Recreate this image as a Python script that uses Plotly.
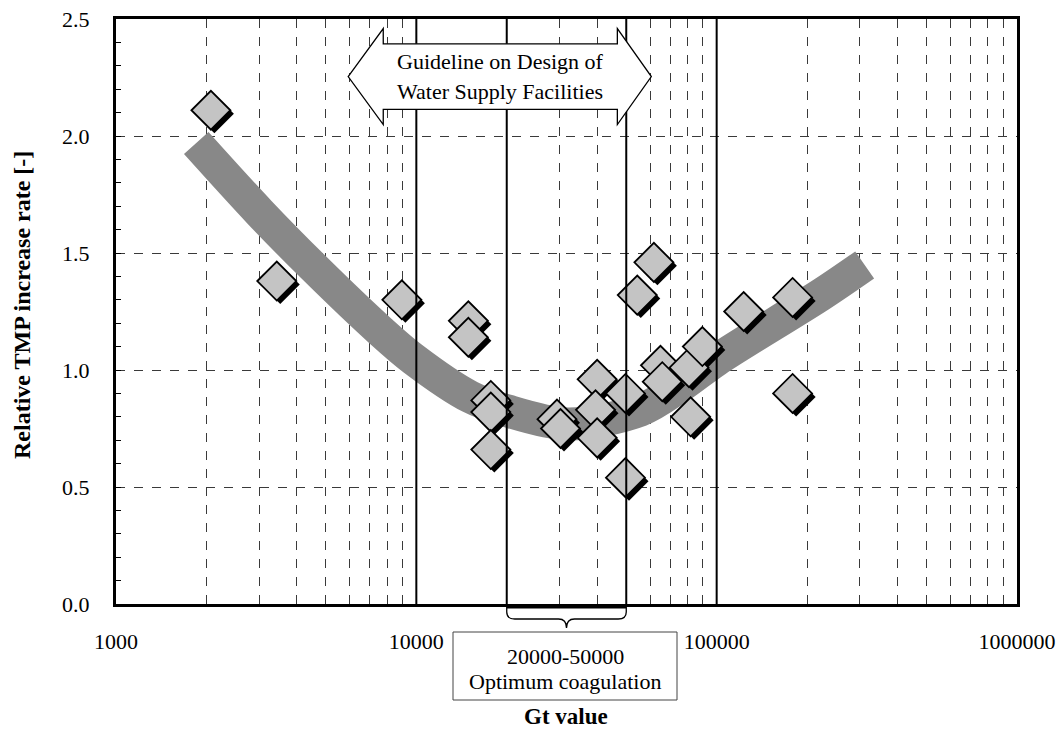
import math
import plotly.graph_objects as go

# ---------------- data ----------------
gt_values = [2070, 3430, 8950, 14900, 14900, 17700, 17700, 17700, 29400, 30200,
             40000, 39500, 40000, 49700, 49700, 54400, 61800, 65000, 65900,
             80900, 89600, 81900, 123000, 179000, 179000]
tmp_rates = [2.11, 1.38, 1.30, 1.21, 1.14, 0.87, 0.82, 0.66, 0.79, 0.75,
             0.96, 0.83, 0.71, 0.90, 0.54, 1.32, 1.46, 1.02, 0.95,
             1.01, 1.10, 0.80, 1.25, 1.31, 0.90]

trend_gt = [1850, 3000, 4540, 7590, 9770, 15100, 20100, 31900,
            55800, 75900, 100000, 222000, 311000]
trend_rate = [1.97, 1.675, 1.44, 1.167, 1.047, 0.885, 0.825, 0.769,
              0.829, 0.932, 1.043, 1.321, 1.449]

x_tick_vals = [1000, 10000, 100000, 1000000]
x_tick_text = ["1000", "10000", "100000", "1000000"]
y_tick_vals = [0.0, 0.5, 1.0, 1.5, 2.0, 2.5]
y_tick_text = ["0.0", "0.5", "1.0", "1.5", "2.0", "2.5"]

decade_lines = [10000, 100000]
optimum_range = [20000, 50000]
guideline_text = ["Guideline on Design of", "Water Supply Facilities"]
optimum_text = ["20000-50000", "Optimum coagulation"]
x_title = "Gt value"
y_title = "Relative TMP increase rate [-]"

# ---------------- geometry helpers ----------------
W, H = 1059, 737
PL, PT, PW, PH = 116, 19, 901, 585  # plot area in pixels
X_LOG = [3, 6]
Y_RNG = [0, 2.5]


def xp(v):
    return (math.log10(v) - X_LOG[0]) / (X_LOG[1] - X_LOG[0])


def yp(v):
    return (v - Y_RNG[0]) / (Y_RNG[1] - Y_RNG[0])


def pxp(px):  # pixel -> paper x
    return (px - PL) / PW


def pyp(py):  # pixel -> paper y
    return (PT + PH - py) / PH


FONT = "Liberation Serif, Times New Roman, serif"

fig = go.Figure()

# trend band
fig.add_trace(go.Scatter(
    x=trend_gt, y=trend_rate, mode="lines",
    line=dict(color="#888888", width=33, shape="spline", smoothing=0.9),
    xaxis="x", yaxis="y", hoverinfo="skip"))

# marker shadows (overlay axes shifted by a few pixels)
fig.add_trace(go.Scatter(
    x=gt_values, y=tmp_rates, mode="markers",
    marker=dict(symbol="diamond", size=30, color="black", line=dict(width=0)),
    xaxis="x2", yaxis="y2", hoverinfo="skip"))

# markers
fig.add_trace(go.Scatter(
    x=gt_values, y=tmp_rates, mode="markers",
    marker=dict(symbol="diamond", size=30, color="#c4c4c4",
                line=dict(width=1.8, color="black")),
    xaxis="x3", yaxis="y3"))

sx = 3.5 / (PW / (X_LOG[1] - X_LOG[0]))
sy = 3.5 / (PH / (Y_RNG[1] - Y_RNG[0]))

minor_x = [d * 10 ** e for e in (3, 4, 5) for d in range(2, 10)]
minor_y = [i / 10 for i in range(26) if i % 5]

fig.update_layout(
    width=W, height=H,
    margin=dict(l=PL, r=W - PL - PW, t=PT, b=H - PT - PH, autoexpand=False),
    paper_bgcolor="white", plot_bgcolor="white",
    showlegend=False,
    font=dict(family=FONT, size=22, color="black"),
    xaxis=dict(type="log", range=X_LOG, tickmode="array", automargin=False,
               tickvals=x_tick_vals, ticktext=x_tick_text,
               showgrid=False, ticks="", showline=True, linecolor="black",
               linewidth=3, mirror=True, zeroline=False,
               ticklabelstandoff=16, ticklabeloverflow="allow",
               tickfont=dict(family=FONT, size=22),
               minor=dict(tickmode="array", tickvals=minor_x, showgrid=True,
                          gridcolor="#3a3a3a", griddash="dash", gridwidth=1,
                          ticks="")),
    yaxis=dict(range=Y_RNG, tickmode="array", tickvals=y_tick_vals,
               automargin=False,
               ticktext=y_tick_text, showgrid=True, gridcolor="#3a3a3a",
               griddash="dash", gridwidth=1, ticks="inside", ticklen=5,
               tickwidth=1, tickcolor="black",
               ticklabelstandoff=19, ticklabeloverflow="allow",
               tickfont=dict(family=FONT, size=22),
               minor=dict(tickmode="array", tickvals=minor_y, ticks="inside",
                          ticklen=5, tickwidth=1, tickcolor="black",
                          showgrid=False),
               showline=True, linecolor="black", linewidth=3, mirror=True,
               zeroline=False),
    xaxis2=dict(type="log", range=[X_LOG[0] - sx, X_LOG[1] - sx],
                overlaying="x", anchor="y2", visible=False, automargin=False),
    yaxis2=dict(range=[Y_RNG[0] + sy, Y_RNG[1] + sy], overlaying="y",
                anchor="x2", visible=False, automargin=False),
    xaxis3=dict(type="log", range=X_LOG, overlaying="x", anchor="y3",
                visible=False, automargin=False),
    yaxis3=dict(range=Y_RNG, overlaying="y", anchor="x3", visible=False,
                automargin=False),
)

shapes = []
# solid vertical lines
for v in decade_lines + optimum_range:
    shapes.append(dict(type="line", xref="paper", yref="paper",
                       x0=xp(v), x1=xp(v), y0=0, y1=1,
                       line=dict(color="black", width=2), layer="above"))

# guideline double arrow
tipL, baseL, baseR, tipR = 5930, 7760, 46700, 60600
yc, hh, bh = 2.254, 0.205, 0.14
pts = [(tipL, yc), (baseL, yc + hh), (baseL, yc + bh), (baseR, yc + bh),
       (baseR, yc + hh), (tipR, yc), (baseR, yc - hh), (baseR, yc - bh),
       (baseL, yc - bh), (baseL, yc - hh)]
path = "M " + " L ".join(f"{xp(a):.5f},{yp(b):.5f}" for a, b in pts) + " Z"
shapes.append(dict(type="path", xref="paper", yref="paper", path=path,
                   fillcolor="white", line=dict(color="black", width=1.3),
                   layer="above"))

# thick segment on the axis + brace below
x20, x50 = PL + xp(optimum_range[0]) * PW, PL + xp(optimum_range[1]) * PW
xm = (x20 + x50) / 2
shapes.append(dict(type="line", xref="paper", yref="paper",
                   x0=pxp(x20), x1=pxp(x50), y0=pyp(606.5), y1=pyp(606.5),
                   line=dict(color="black", width=4), layer="above"))
brace = (f"M {pxp(x20)},{pyp(606)} L {pxp(x20)},{pyp(612)} "
         f"Q {pxp(x20)},{pyp(619)} {pxp(x20 + 8)},{pyp(619)} "
         f"L {pxp(xm - 8)},{pyp(619)} "
         f"Q {pxp(xm)},{pyp(619)} {pxp(xm)},{pyp(628)} "
         f"Q {pxp(xm)},{pyp(619)} {pxp(xm + 8)},{pyp(619)} "
         f"L {pxp(x50 - 8)},{pyp(619)} "
         f"Q {pxp(x50)},{pyp(619)} {pxp(x50)},{pyp(612)} "
         f"L {pxp(x50)},{pyp(606)}")
shapes.append(dict(type="path", xref="paper", yref="paper", path=brace,
                   line=dict(color="black", width=1.3), layer="above"))
# optimum box
shapes.append(dict(type="rect", xref="paper", yref="paper",
                   x0=pxp(453), x1=pxp(677), y0=pyp(700), y1=pyp(632),
                   fillcolor="white", line=dict(color="#444", width=1),
                   layer="above"))
fig.update_layout(shapes=shapes)


def label(x, y, text, size=22, angle=0):
    return dict(xref="paper", yref="paper", x=x, y=y, text=text,
                showarrow=False, xanchor="center", yanchor="middle",
                textangle=angle, font=dict(family=FONT, size=size))


ann = [
    label(pxp(500), yp(yc + 0.064), guideline_text[0]),
    label(pxp(500), yp(yc - 0.064), guideline_text[1]),
    label(pxp(565), pyp(657), optimum_text[0]),
    label(pxp(565), pyp(681), optimum_text[1]),
    label(pxp(566), pyp(716), f"<b>{x_title}</b>", size=23),
    label(pxp(22), pyp(305), f"<b>{y_title}</b>", size=24, angle=-90),
]
fig.update_layout(annotations=ann)

# remove the default 8px page margin so the figure sits at the window origin
fig.write_html(
    "out.html",
    config={"displayModeBar": False},
    post_script="document.body.style.margin='0';"
                "document.documentElement.style.overflow='hidden';")
